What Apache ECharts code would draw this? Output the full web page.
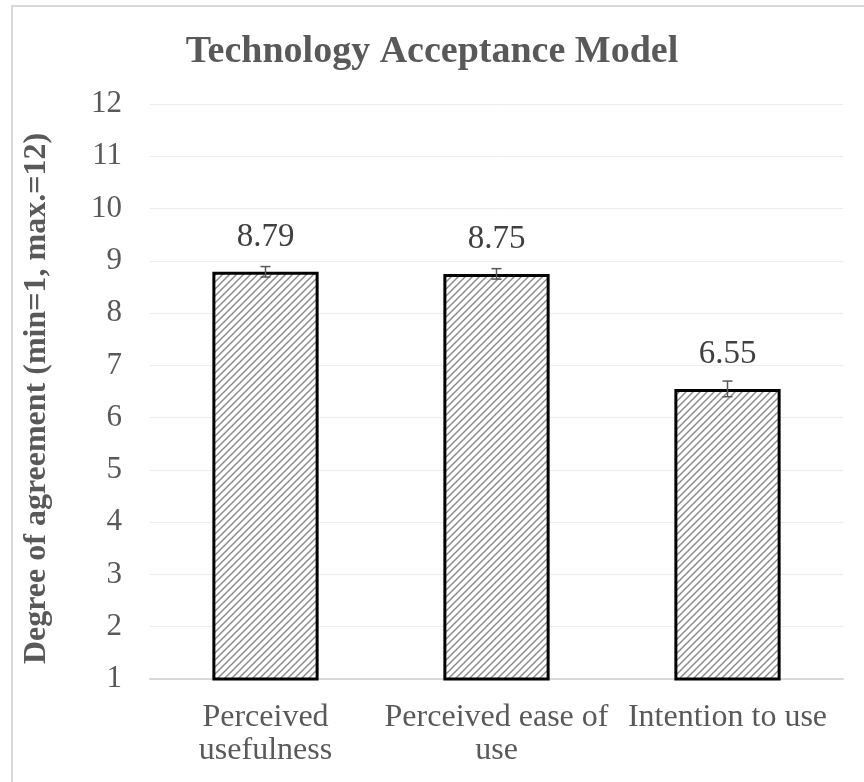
<!DOCTYPE html>
<html>
<head>
<meta charset="utf-8">
<script src="https://cdn.jsdelivr.net/npm/echarts@6/dist/echarts.min.js"></script>
<style>
html, body { margin: 0; padding: 0; background: #fff; }
#chart { width: 864px; height: 782px; }
</style>
</head>
<body>
<div id="chart"></div>
<script>
// data
var categories = ["Perceived\nusefulness", "Perceived ease of\nuse", "Intention to use"]
var means = [8.79, 8.75, 6.55]
var errors = [0.1, 0.1, 0.15]
var yTicks = [1, 12, 1] // min, max, interval

// hatch pattern: dotted diagonal lines like the Excel fill
function makeHatch() {
    var c = document.createElement("canvas")
    c.width = 7
    c.height = 7
    var ctx = c.getContext("2d")
    ctx.fillStyle = "#ffffff"
    ctx.fillRect(0, 0, 7, 7)
    ctx.strokeStyle = "#8c8c8c"
    ctx.lineWidth = 1.5
    ctx.beginPath()
    ctx.moveTo(-2, 9)
    ctx.lineTo(9, -2)
    ctx.moveTo(-2, 2)
    ctx.lineTo(2, -2)
    ctx.moveTo(5, 9)
    ctx.lineTo(9, 5)
    ctx.stroke()
    return c
}

var serif = "'Liberation Serif', 'DejaVu Serif', serif"
var myChart = echarts.init(document.getElementById("chart"))

var option = {
    backgroundColor: "#ffffff",
    animation: false,
    title: {
        text: "Technology Acceptance Model",
        left: "center",
        top: 28,
        textStyle: { fontFamily: serif, fontSize: 38, fontWeight: "bold", color: "#595959" }
    },
    graphic: [
        {
            type: "rect",
            shape: { x: 12, y: 6, width: 870, height: 800 },
            style: { fill: null, stroke: "#d9d9d9", lineWidth: 2 },
            silent: true
        }
    ],
    grid: { left: 150, right: 21, top: 104, bottom: 103 },
    xAxis: {
        type: "category",
        data: categories,
        axisLine: { show: true, lineStyle: { color: "#d9d9d9", width: 2 } },
        axisTick: { show: false },
        axisLabel: {
            fontFamily: serif, fontSize: 32, color: "#595959",
            lineHeight: 33, margin: 22, interval: 0
        }
    },
    yAxis: {
        type: "value",
        min: yTicks[0],
        max: yTicks[1],
        interval: yTicks[2],
        name: "Degree of agreement (min=1, max.=12)",
        nameLocation: "middle",
        nameGap: 97,
        nameTextStyle: {
            fontFamily: serif, fontSize: 32, fontWeight: "bold", color: "#595959",
            padding: [0, 14, 0, 0]
        },
        axisLine: { show: false },
        axisTick: { show: false },
        splitLine: { lineStyle: { color: "#ececec", width: 1 } },
        axisLabel: { fontFamily: serif, fontSize: 31, color: "#595959", margin: 28 }
    },
    series: [
        {
            name: "mean",
            type: "bar",
            data: means,
            barWidth: "46%",
            itemStyle: {
                color: { image: makeHatch(), repeat: "repeat" },
                borderColor: "#000000",
                borderWidth: 3
            },
            label: {
                show: true,
                position: "top",
                distance: 18,
                fontFamily: serif,
                fontSize: 33,
                color: "#404040",
                formatter: function(p) { return p.value.toFixed(2) }
            },
            z: 2
        },
        {
            name: "error",
            type: "custom",
            z: 5,
            data: means.map(function(m, i) { return [i, m - errors[i], m + errors[i]] }),
            renderItem: function(params, api) {
                var lo = api.coord([api.value(0), api.value(1)])
                var hi = api.coord([api.value(0), api.value(2)])
                var hw = 5
                var st = { stroke: "#595959", lineWidth: 1.5 }
                return {
                    type: "group",
                    children: [
                        { type: "line", shape: { x1: hi[0], y1: hi[1], x2: lo[0], y2: lo[1] }, style: st },
                        { type: "line", shape: { x1: hi[0] - hw, y1: hi[1], x2: hi[0] + hw, y2: hi[1] }, style: st },
                        { type: "line", shape: { x1: lo[0] - hw, y1: lo[1], x2: lo[0] + hw, y2: lo[1] }, style: st }
                    ]
                }
            }
        }
    ]
}

myChart.setOption(option)
</script>
</body>
</html>
